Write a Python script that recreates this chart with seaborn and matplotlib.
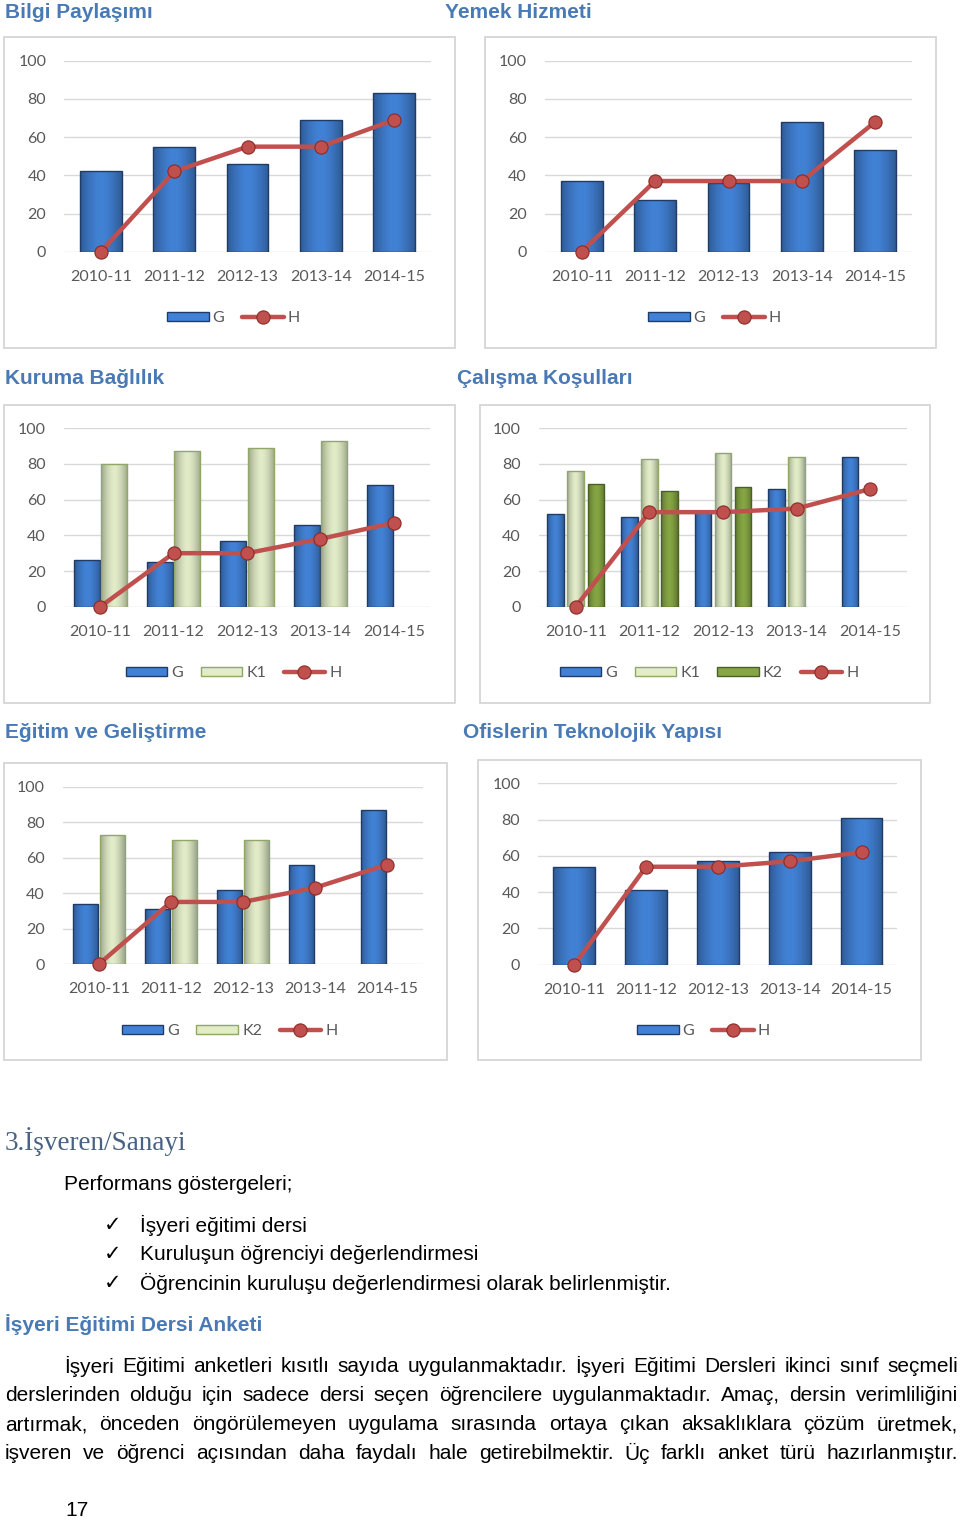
import matplotlib
matplotlib.use("Agg")
import numpy as np
import pandas as pd
import matplotlib.pyplot as plt
import seaborn as sns
from matplotlib import font_manager
from matplotlib.colors import to_rgb
from matplotlib.patches import Rectangle
from matplotlib.lines import Line2D

years = ["2010-11", "2011-12", "2012-13", "2013-14", "2014-15"]

# Bilgi Paylaşımı
bilgi_G = [42, 55, 46, 69, 83]
bilgi_H = [0, 42, 55, 55, 69]
# Yemek Hizmeti
yemek_G = [37, 27, 36, 68, 53]
yemek_H = [0, 37, 37, 37, 68]
# Kuruma Bağlılık
kurum_G = [26, 25, 37, 46, 68]
kurum_K1 = [80, 87, 89, 93, None]
kurum_H = [0, 30, 30, 38, 47]
# Çalışma Koşulları
calisma_G = [52, 50, 53, 66, 84]
calisma_K1 = [76, 83, 86, 84, None]
calisma_K2 = [69, 65, 67, None, None]
calisma_H = [0, 53, 53, 55, 66]
# Eğitim ve Geliştirme
egitim_G = [34, 31, 42, 56, 87]
egitim_K2 = [73, 70, 70, None, None]
egitim_H = [0, 35, 35, 43, 56]
# Ofislerin Teknolojik Yapısı
ofis_G = [54, 41, 57, 62, 81]
ofis_H = [0, 54, 54, 57, 62]

BLUE, BLUE_EDGE = "#4282D6", "#1F3B66"
LIGHT, LIGHT_EDGE = "#E2ECC8", "#8FA866"
DARK, DARK_EDGE = "#86A645", "#4B6124"
RED, RED_EDGE = "#C0504D", "#8C2A27"
TITLE_BLUE = "#4A7AB5"
GRAY = "#595959"

W, H = 960, 1519

sns.set_style("white")
installed = {f.name for f in font_manager.fontManager.ttflist}
narrow = "Liberation Sans Narrow" if "Liberation Sans Narrow" in installed else "Liberation Sans"
plt.rcParams["font.family"] = ["Lato", "DejaVu Sans"]

fig = plt.figure(figsize=(W / 100, H / 100), dpi=100)
page = fig.add_axes([0, 0, 1, 1])
page.set_xlim(0, W)
page.set_ylim(H, 0)
page.axis("off")


def px_axes(x0, y0, x1, y1):
    return fig.add_axes([x0 / W, 1 - y1 / H, (x1 - x0) / W, (y1 - y0) / H])


def shade_bar(ax, patch, color):
    # darker sides, lighter middle - a rough take on the glossy excel bars
    x, y = patch.get_x(), patch.get_y()
    w, h = patch.get_width(), patch.get_height()
    t = np.linspace(-1, 1, 48)
    k = 1 - 0.30 * np.abs(t) ** 1.6
    img = (np.array(to_rgb(color))[None, :] * k[:, None])[None, :, :]
    im = ax.imshow(img, extent=(x, x + w, y, y + h), aspect="auto",
                   zorder=patch.get_zorder() - 0.01, interpolation="bilinear")
    im.set_clip_path(patch)
    patch.set_facecolor("none")


charts = [
    dict(title="Bilgi Paylaşımı", tpos=(5, 12), frame=(4, 37, 455, 348),
         box=(64.3, 60.7, 430.8, 251.7), leg_y=318,
         bars={"G": bilgi_G}, h=bilgi_H, width=0.57, gap=0),
    dict(title="Yemek Hizmeti", tpos=(445, 12), frame=(485, 37, 936, 348),
         box=(545, 60.7, 912, 251.7), leg_y=318,
         bars={"G": yemek_G}, h=yemek_H, width=0.57, gap=0),
    dict(title="Kuruma Bağlılık", tpos=(5, 378), frame=(4, 405, 455, 703),
         box=(63.6, 428.3, 430.4, 606.7), leg_y=673,
         bars={"G": kurum_G, "K1": kurum_K1}, h=kurum_H, width=0.74, gap=0.04),
    dict(title="Çalışma Koşulları", tpos=(457, 378), frame=(480, 405, 930, 703),
         box=(539, 428.3, 907, 606.7), leg_y=673,
         bars={"G": calisma_G, "K1": calisma_K1, "K2": calisma_K2}, h=calisma_H,
         width=0.82, gap=0.17),
    dict(title="Eğitim ve Geliştirme", tpos=(5, 733), frame=(4, 763, 447, 1060),
         box=(63, 786.7, 423, 964), leg_y=1031,
         bars={"G": egitim_G, "K2": egitim_K2}, h=egitim_H, width=0.75, gap=0.11),
    dict(title="Ofislerin Teknolojik Yapısı", tpos=(463, 733), frame=(478, 760, 921, 1060),
         box=(538.4, 783.3, 897.5, 964.7), leg_y=1031,
         bars={"G": ofis_G}, h=ofis_H, width=0.58, gap=0),
]

for c in charts:
    fx0, fy0, fx1, fy1 = c["frame"]
    page.add_patch(Rectangle((fx0, fy0), fx1 - fx0, fy1 - fy0, fill=False,
                             ec="#D6D6D6", lw=1.3))
    page.text(c["tpos"][0], c["tpos"][1], c["title"], ha="left", va="center",
              fontsize=15, fontweight="bold", color=TITLE_BLUE, family=narrow)

    # colours follow series position, like the original charts
    names = list(c["bars"].keys())
    fills = [BLUE, LIGHT, DARK][:len(names)]
    edges = [BLUE_EDGE, LIGHT_EDGE, DARK_EDGE][:len(names)]

    rows = []
    for name in names:
        for yr, v in zip(years, c["bars"][name]):
            if v is not None:
                rows.append({"year": yr, "series": name, "value": v})
    df = pd.DataFrame(rows)

    ax = px_axes(*c["box"])
    sns.barplot(data=df, x="year", y="value", hue="series", order=years,
                hue_order=names, palette=dict(zip(names, fills)),
                width=c["width"], gap=c["gap"], errorbar=None, legend=False,
                ax=ax, linewidth=1.0, saturation=1)
    for cont, fc, ec in zip(ax.containers, fills, edges):
        for p in cont.patches:
            p.set_edgecolor(ec)
            shade_bar(ax, p, fc)
    sns.pointplot(x=years, y=c["h"], ax=ax, color=RED, markers="o",
                  markersize=9.5, linewidth=3.2, errorbar=None)
    for ln in ax.lines:
        ln.set_markeredgecolor(RED_EDGE)
        ln.set_markeredgewidth(0.8)
        ln.set_clip_on(False)
        ln.set_zorder(5)

    ax.set_xlim(-0.5, 4.5)
    ax.set_ylim(0, 100)
    ax.set_yticks(range(0, 101, 20))
    ax.set_xlabel("")
    ax.set_ylabel("")
    ax.grid(axis="y", color="#D9D9D9", lw=1)
    ax.set_axisbelow(True)
    ax.set_facecolor("none")
    sns.despine(ax=ax, left=True, bottom=True)
    ax.tick_params(length=0, colors=GRAY, labelsize=11.5, pad=13)

    handles = [Rectangle((0, 0), 1, 1, fc=f, ec=e, lw=1) for f, e in zip(fills, edges)]
    handles.append(Line2D([], [], color=RED, lw=3.2, marker="o", markersize=9.5,
                          mfc=RED, mec=RED_EDGE, mew=0.8))
    leg = ax.legend(handles, names + ["H"], loc="center", ncol=len(handles),
                    bbox_to_anchor=((fx0 + fx1) / 2 + 4, c["leg_y"]),
                    bbox_transform=page.transData, frameon=False,
                    fontsize=11.5, handlelength=2.6, handleheight=0.55,
                    handletextpad=0.25, columnspacing=1.1)
    for t in leg.get_texts():
        t.set_color(GRAY)

# text part of the page
body = dict(fontsize=15, color="#000000", family=[narrow, "DejaVu Sans"])
page.text(5, 1142, "3.İşveren/Sanayi", ha="left", va="center", fontsize=19.5,
          color="#4A6282", family="Liberation Serif")
page.text(64, 1184, "Performans göstergeleri;", ha="left", va="center", **body)
items = ["İşyeri eğitimi dersi", "Kuruluşun öğrenciyi değerlendirmesi",
         "Öğrencinin kuruluşu değerlendirmesi olarak belirlenmiştir."]
for i, item in enumerate(items):
    y = 1225 + i * 29
    page.text(104, y, "✓", ha="left", va="center", fontsize=15, color="#000000",
              family="DejaVu Sans")
    page.text(140, y, item, ha="left", va="center", **body)

page.text(5, 1325, "İşyeri Eğitimi Dersi Anketi", ha="left", va="center",
          fontsize=15, fontweight="bold", color=TITLE_BLUE, family=narrow)

para = [
    (64, "İşyeri Eğitimi anketleri kısıtlı sayıda uygulanmaktadır. İşyeri Eğitimi Dersleri ikinci sınıf seçmeli"),
    (5, "derslerinden olduğu için sadece dersi seçen öğrencilere uygulanmaktadır. Amaç, dersin verimliliğini"),
    (5, "artırmak, önceden öngörülemeyen uygulama sırasında ortaya çıkan aksaklıklara çözüm üretmek,"),
    (5, "işveren ve öğrenci açısından daha faydalı hale getirebilmektir. Üç farklı anket türü hazırlanmıştır."),
]
renderer = fig.canvas.get_renderer()
for i, (x0, line) in enumerate(para):
    y = 1366 + i * 29.3
    words = line.split()
    texts = [page.text(0, y, w, ha="left", va="center", **body) for w in words]
    widths = [t.get_window_extent(renderer).width for t in texts]
    gap = (958 - x0 - sum(widths)) / (len(words) - 1)
    x = x0
    for t, w in zip(texts, widths):
        t.set_x(x)
        x += w + gap

page.text(65, 1510, "17", ha="left", va="center", **body)

fig.savefig("out.png", dpi=100)
